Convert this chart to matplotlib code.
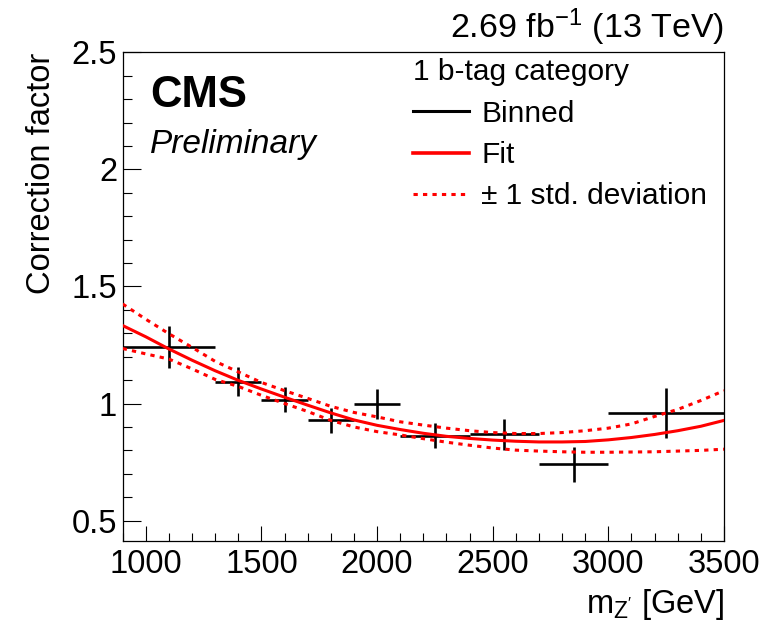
import matplotlib
matplotlib.use("Agg")
import matplotlib.pyplot as plt
from matplotlib.lines import Line2D
from matplotlib.ticker import MultipleLocator

plt.rcParams['font.family'] = ['Liberation Sans', 'DejaVu Sans']
plt.rcParams['mathtext.fontset'] = 'custom'
plt.rcParams['mathtext.rm'] = 'Liberation Sans'
plt.rcParams['mathtext.it'] = 'Liberation Sans:italic'

# ---- binned correction factors ----
bin_center = [1100, 1400, 1600, 1800, 2000, 2250, 2550, 2850, 3250]
bin_halfwidth = [200, 100, 100, 100, 100, 150, 150, 150, 250]
binned_value = [1.242, 1.094, 1.017, 0.928, 0.997, 0.863, 0.869, 0.741, 0.960]
binned_error = [0.090, 0.060, 0.054, 0.053, 0.063, 0.052, 0.067, 0.074, 0.108]

# ---- fit curve and +-1 sigma band ----
fit_mass = [900, 1000, 1100, 1200, 1300, 1400, 1500, 1600, 1700, 1800, 1900,
            2000, 2100, 2200, 2300, 2400, 2500, 2600, 2700, 2800, 2900, 3000,
            3100, 3200, 3300, 3400, 3500]
fit_value = [1.333, 1.285, 1.233, 1.185, 1.140, 1.099, 1.062, 1.027, 0.993,
             0.960, 0.930, 0.907, 0.889, 0.873, 0.860, 0.851, 0.844, 0.839,
             0.836, 0.836, 0.838, 0.845, 0.855, 0.868, 0.884, 0.903, 0.928]
fit_upper = [1.425, 1.360, 1.298, 1.240, 1.180, 1.135, 1.090, 1.055, 1.022,
             0.988, 0.962, 0.943, 0.922, 0.908, 0.895, 0.884, 0.876, 0.872,
             0.872, 0.876, 0.884, 0.895, 0.913, 0.945, 0.975, 1.013, 1.055]
fit_lower = [1.235, 1.212, 1.190, 1.148, 1.103, 1.073, 1.035, 1.000, 0.966,
             0.928, 0.900, 0.880, 0.866, 0.850, 0.835, 0.822, 0.810, 0.801,
             0.797, 0.794, 0.792, 0.792, 0.793, 0.794, 0.797, 0.800, 0.805]

x_ticks = [1000, 1500, 2000, 2500, 3000, 3500]
x_ticklabels = ['1000', '1500', '2000', '2500', '3000', '3500']
y_ticks = [0.5, 1.0, 1.5, 2.0, 2.5]
y_ticklabels = ['0.5', '1', '1.5', '2', '2.5']

W, H = 771, 626
fig = plt.figure(figsize=(W / 100, H / 100), dpi=100)
ax = fig.add_axes([122.7 / W, (H - 541) / H, (724 - 122.7) / W, (541 - 52.3) / H])

DOT = (1.4, 1.7)
ax.errorbar(bin_center, binned_value, xerr=bin_halfwidth, yerr=binned_error,
            fmt='none', ecolor='black', elinewidth=1.9, capsize=0, zorder=2)
ax.plot(fit_mass, fit_value, color='red', lw=2.2, zorder=3)
ax.plot(fit_mass, fit_upper, color='red', lw=2.2, dashes=DOT, zorder=3)
ax.plot(fit_mass, fit_lower, color='red', lw=2.2, dashes=DOT, zorder=3)

ax.set_xlim(900, 3500)
ax.set_ylim(0.413, 2.5)
ax.set_xticks(x_ticks)
ax.set_xticklabels(x_ticklabels)
ax.set_yticks(y_ticks)
ax.set_yticklabels(y_ticklabels)
ax.xaxis.set_minor_locator(MultipleLocator(100))
ax.yaxis.set_minor_locator(MultipleLocator(0.1))
ax.tick_params(axis='both', which='both', direction='in', width=0.8, labelsize=23.5)
ax.tick_params(axis='x', which='major', length=10.5, pad=6)
ax.tick_params(axis='x', which='minor', length=5.5)
ax.tick_params(axis='y', which='major', length=13, pad=4)
ax.tick_params(axis='y', which='minor', length=6.5)
for s in ax.spines.values():
    s.set_linewidth(0.9)

ax.set_ylabel('Correction factor', fontsize=23.5, loc='top')
ax.yaxis.set_label_coords(-0.109, 1.0)
ax.set_xlabel(r"m$_{\mathregular{Z'}}$ [GeV]", fontsize=23.5, loc='right')
ax.xaxis.set_label_coords(1.0, -0.095)

ax.text(1.0, 1.029, r'2.69 fb$^{\mathregular{-1}}$ (13 TeV)', transform=ax.transAxes,
        ha='right', va='baseline', fontsize=24.5)
ax.text(0.045, 0.888, 'CMS', transform=ax.transAxes, ha='left', va='baseline',
        fontsize=31.5, fontweight='bold')
ax.text(0.045, 0.794, 'Preliminary', transform=ax.transAxes, ha='left', va='baseline',
        fontsize=24, fontstyle='italic')

handles = [Line2D([], [], color='black', lw=2.2),
           Line2D([], [], color='red', lw=2.6),
           Line2D([], [], color='red', lw=2.2, dashes=DOT)]
labels = ['Binned', 'Fit', '\u00b1 1 std. deviation']
leg = ax.legend(handles, labels, title='1 b-tag category', loc='upper left',
                bbox_to_anchor=(0.482, 0.988), frameon=False, fontsize=21.5,
                title_fontsize=21.5, alignment='left', borderpad=0, borderaxespad=0,
                handlelength=1.9, handletextpad=0.4, labelspacing=0.45)

fig.savefig('out.png', dpi=100)
